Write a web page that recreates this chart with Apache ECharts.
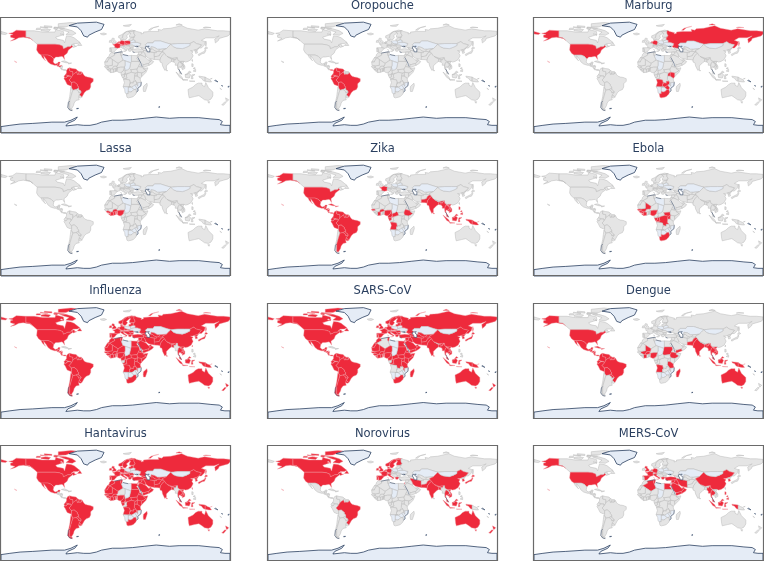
<!DOCTYPE html>
<html><head><meta charset="utf-8">
<style>html,body{margin:0;padding:0;background:#fff}#c{width:764px;height:561px;filter:blur(0.35px)}</style>
<script src="https://cdn.jsdelivr.net/npm/echarts@6/dist/echarts.min.js"></script>
</head><body><div id="c"></div>
<script>
// Simplified country outlines (lon,lat)
const SHAPES = {
Canada:['-141,70 -128,70 -115,68 -95,68 -94,72 -82,69 -81,64 -94,60 -92,57 -82,55 -80,51 -79,55 -77,62 -70,61 -65,59 -60,55 -56,52 -60,50 -66,50 -70,47 -65,49 -64,46 -61,46 -66,44 -67,45 -69,47 -71,45 -75,45 -79,43 -82,42 -83,46 -88,48 -95,49 -123,49 -130,55 -135,59 -141,60','-62,66 -68,63 -78,64 -73,68 -80,70 -88,73 -78,73 -68,70','-117,70 -105,69 -102,72 -110,73 -117,72','-90,76 -78,76 -62,82 -70,83 -90,81','-125,72 -118,72 -118,74 -124,74','-97,73 -92,72 -90,75 -97,75','-60,47 -53,47 -56,51.5','-112,76 -100,75 -100,77 -112,78','-96,74 -80,74 -80,75.5 -96,76','-118,75 -106,74.5 -106,76 -118,76.5','-87,65 -81,63 -80,64.5 -85,66'],
USA:['-168,66 -162,67 -156,71 -141,70 -141,60 -135,59 -130,55 -134,58 -145,60 -152,59 -158,56 -165,54 -158,58 -165,60 -165,63 -161,64','-123,49 -95,49 -88,48 -83,46 -82,42 -79,43 -75,45 -71,45 -69,47 -67,45 -70,43 -74,40 -76,35 -81,31 -80,25 -82,28 -84,30 -90,29 -94,29 -97,26 -101,30 -106,32 -114,32 -117,32 -121,35 -124,40','-159,22.5 -155,20.5 -155.5,19 -157,21'],
Mexico:['-117,32 -114,32 -106,32 -101,30 -97,26 -98,21 -95,18 -91,19 -90,21 -87,21 -88,18 -91,18 -91,16 -92,14.5 -96,16 -102,18 -106,21 -109,26 -113,31 -114.5,31 -112,26 -110,23 -115,28'],
Guatemala:['-92,14.5 -91,16 -91,18 -88,18 -89,15 -90,14'],Honduras:['-89,15 -84,16 -83,15 -87,13 -90,14'],Nicaragua:['-87,13 -83,15 -84,11 -86,11'],CostaRica:['-86,11 -84,11 -83,9 -85,9'],Panama:['-83,9 -79,9.5 -77,8 -78,7 -81,8'],
Cuba:['-85,22 -80,23 -74,20 -78,20'],Hispaniola:['-74,19.5 -69,19.5 -68.5,18.5 -74,18'],
Colombia:['-77,8 -75,11 -72,12 -72,7 -67,6 -67,1 -70,-4 -70,-1 -75,0 -79,1 -77,4'],Venezuela:['-72,12 -68,11 -62,10 -60,8 -61,5 -64,4 -67,1 -67,6 -72,7'],Guyana:['-60,8 -57,6 -58,2 -60,1.5 -61,5'],Suriname:['-57,6 -54,6 -54,2 -58,2'],FrGuiana:['-54,6 -52,4.5 -53,2 -54,2'],
Ecuador:['-79,1 -75,0 -75,-1 -78,-4 -80,-3 -81,-1'],Peru:['-81,-5 -80,-3 -78,-4 -75,-1 -75,0 -70,-1 -70,-4 -73,-7 -70,-10 -69,-13 -69,-17 -70,-18 -76,-14 -79,-8'],
Brazil:['-70,-4 -67,1 -64,4 -61,5 -60,1.5 -58,2 -54,2 -53,2 -52,4.5 -50,1 -48,-1 -44,-2.5 -40,-3 -35,-5 -35,-9 -39,-13 -39,-18 -41,-22 -46,-24 -49,-27 -53,-34 -57,-30 -54,-26 -55,-24 -58,-22 -58,-18 -60,-16 -60,-14 -65,-10 -69,-11 -70,-10 -73,-7'],
Bolivia:['-69,-11 -65,-10 -60,-14 -60,-16 -58,-18 -58,-20 -62,-22 -67,-23 -69,-19 -69,-17 -69,-13'],Paraguay:['-62,-22 -58,-20 -58,-22 -55,-24 -54,-26 -58,-27 -58,-25'],Uruguay:['-58,-34 -57,-30 -53,-34 -55,-35'],
Chile:['-70,-18 -69,-19 -67,-23 -70,-33 -72,-40 -72,-47 -72,-52 -68,-53 -68,-55 -72,-54 -75,-50 -74,-42 -72,-33 -71,-25'],Argentina:['-67,-23 -62,-22 -58,-25 -58,-27 -54,-26 -57,-30 -58,-34 -57,-38 -62,-39 -65,-43 -66,-47 -69,-52 -68,-53 -72,-52 -72,-47 -72,-40 -70,-33'],
Iceland:['-24,65.5 -18,66.5 -14,65 -18,63.5 -22,64'],UK:['-5,50 1,51 1,53 -2,56 -2,58 -5,58.5 -6,56 -3,54 -5,52'],Ireland:['-10,52 -6,52 -6,55 -9,55'],
Norway:['5,59 8,58 11,59 12,64 18,69 26,69 31,70 25,71 15,68 10,64 5,62'],Sweden:['11,59 13,55.5 16,56 19,60 17,62 22,66 24,66 20,69 18,69 12,64'],Finland:['24,66 22,63 22,60 28,60 31,62 29,66 29,70 26,69 20,69'],Denmark:['8,55 11,55 11,57 8,57'],
France:['-1.5,43.5 3,42.5 7.5,43.7 7,46 8,49 2.5,51 -1.5,49 -4.5,48.5 -1,46'],Spain:['-9,43.5 -1.5,43.5 3,42.5 0,39.5 -2,37 -6,36 -7,37 -7,42 -9,42'],Portugal:['-9,42 -7,42 -7,37 -9,37'],
Netherlands:['3.5,51.5 6,51 7,53 4.5,53'],Belgium:['2.5,51 6,50 6,51 3.5,51.5'],Germany:['6,51 6,50 8,49 7.7,47.7 13,47.5 13,49 15,51 14,54 9,54.8 7,53'],Switzerland:['7,46 7.7,47.7 10,47.5 10,46'],Austria:['10,47.5 13,47.5 13,49 17,48 16,46.5 10,46'],
Italy:['7,46 10,46 13.5,46.5 12.5,44 16,41.5 18.5,40 16,38 16,40 12,42 9,44 7.5,43.7','12.5,38 15.5,38 15,36.7','8.3,41 9.7,41 9.5,39 8.5,39'],
Poland:['14,54 19,54.5 23,54.3 24,51 22.5,49 19,49.5 15,51'],Czechia:['13,49 15,51 19,49.5 22.5,49 22.5,48 17,48'],Hungary:['16,46.5 17,48 22.5,48 21,46'],Romania:['21,46 22.5,48 27,48 29.5,45 28,44 23,44'],Bulgaria:['23,44 28,44 28,42 26,41 23,41.5'],Balkans:['13.5,46.5 16,46.5 21,46 23,44 23,41.5 20,41 19,42 13.5,45'],Greece:['20,41 23,41.5 26,41 24,38 23,36.5 21,38'],
Ukraine:['24,51 31,52 34,52 40,50 38,47 33,46 36,45 33,45 30,46 29.5,45 27,48 22.5,48 22.5,49'],Belarus:['23,54.3 28,56 31,55 32,53 31,52 24,51'],Baltics:['21,55 23,54.3 28,56 28,59.5 24,59.5 24,57.5 21,57'],
Russia:['31,70 33,69 41,67 40,65 44,66 44,68 54,69 68,69 67,72 73,71 75,73 87,74 104,78 113,74 130,71 140,73 160,70 170,70 180,69 180,65 177,62 170,60 163,58 162,55 157,51 156,57 163,62 155,59 142,59 135,55 141,53 140,48 135,43 131,43 135,48 127,50 123,53 117,50 108,50 98,50 88,49 80,51 71,54 61,54 59,51 50,51 47,48 49,46 47,42 40,43.5 37,45 39,47 38,47 40,50 34,52 31,52 32,53 31,55 28,56 28,59.5 30,60 28,60 31,62 29,66 29,70','-180,69 -170,66 -173,64 -180,65','142,54 143,50 142,46 141.5,50','52,71 56,74 68,77 60,75 55,71','95,79 105,79 100,81','138,75 150,75 142,76'],
Kazakhstan:['47,48 50,51 59,51 61,54 71,54 80,51 87,49 83,45 80,42 70,41 66,41 61,44 56,45 56,41 53,42 51,45 49,46'],Caucasus:['40,43.5 47,42 50,40 48,38.5 44,39.5 42,41'],
Turkey:['26,41 29,41 35,42 42,41 44,39.5 44,37 42,37 36,36.5 30,36 27,37'],Syria:['36,36.5 42,37 41,34 39,32 36,33'],Israel:['35,33 36,33 35.5,29.5 34.3,31.5'],Iraq:['42,37 44,37 46,35 48,30 46,29 42,31 39,32 41,34'],Jordan:['36,33 39,32 37,30 35.5,29.5'],
Saudi:['35,29 35.5,29.5 37,30 39,32 42,31 46,29 48,28 50,26 52,24 55,22 52,19 45,17 43,17 39,21'],Yemen:['43,17 45,17 52,19 53,16 45,13 43,13'],Oman:['55,22 56,24 60,22 58,19 53,16 52,19'],UAE:['52,24 56,26 56,24 55,22'],
Iran:['44,39.5 48,38.5 54,37 61,36 61,31 63,27 61,25 57,26 52,27 48,30 46,35 44,37'],Turkmenistan:['53,42 58,42 61,39 66,38 64,35.5 61,36 54,37 53,40'],Uzbekistan:['56,41 56,45 61,44 66,41 70,41 67,37 66,38 61,39 58,42'],Kyrgyzstan:['70,41 80,42 74,39 75,37 67,37'],
Afghanistan:['61,36 64,35.5 66,38 67,37 75,37 71,35 69,31 66,30 61,29.5 61,31'],Pakistan:['61,29.5 66,30 69,31 71,35 75,37 77,35 74,32 71,28 70,24 67,24.8 61,25'],
India:['74,32 77,35 79,32 81,30 88,26 89,27 96,29 97,28 94,24 92,25 89,26 88,22 85,20 80,15 80,10 77.5,8 74,15 73,20 70,21 70,24 71,28'],Nepal:['81,30 88,28 88,26'],Bangladesh:['88,22 89,26 92,25 92,21'],SriLanka:['80,9.5 82,7.5 80.5,6 79.8,7.5'],
China:['74,39 80,42 83,45 87,49 91,45 96,43 105,42 111,44 117,47 117,50 123,53 127,50 135,48 131,43 128,41 124,40 121,39 118,39 122,37 120,35 122,31 119,25 114,22 110,21 108,22 102,22 98,24 97,28 96,29 89,27 88,28 81,30 79,32 77,35 75,37'],Mongolia:['88,49 98,50 108,50 117,50 117,47 111,44 105,42 96,43 91,45 87,49'],
NKorea:['124,40 128,41 131,43 128,38.5 125,38'],SKorea:['125,38 128,38.5 129,35.5 126,34.5'],Japan:['130,33 131,34 136,36 140,38 141,41 142,39 140,35 136,34 131,31','140,42 142,45 145,43 143,42'],Taiwan:['120,23 121,25 121,22'],
Myanmar:['92,21 92,25 94,24 97,28 98,24 101,21 99,20 98,16 98.5,10 97.5,16 94,16 94,19'],Thailand:['98,16 99,20 101,21 105,18 105,15 102,13 100,13.5 99.5,10 101,7 100,6.5 98.5,10'],Laos:['101,21 102,22 105,20 107,16 107,14 105,15 105,18'],Vietnam:['102,22 108,22 106,19 109,15 109,11 105,9 105,11 107,14 107,16 105,20'],Cambodia:['102,13 105,15 107,14 105,11'],
Malaysia:['100,6.5 102,6 104,2 101,3','109.5,1.5 113,3 116,7 119,5 115,4 113,1.5'],Indonesia:['95,5.5 104,-2 106,-6 101,-3','105,-6 114,-7 114,-8.5 106,-7.5','109.5,1.5 113,1.5 115,4 118,1 116,-4 110,-3','119,-5 120,1 125,1.5 121,-1 122,-5','131,-1 138,-2 141,-2.5 141,-9 138,-8 135,-4 132,-3','116,-8.5 125,-9 125,-10 117,-9'],
PNG:['141,-2.5 145,-5 148,-6 151,-10 147,-10 141,-9','149,-5.5 152,-4.5 152,-6'],Philippines:['120,18.5 122,18 122,14 120,14','122,7 126,9.5 126,6','122,11 125,12.5 125,10'],
Australia:['114,-22 122,-18 126,-14 130,-12 136,-12 136,-15 140,-17.5 142,-11 146,-19 153,-26 153,-32 150,-37 146,-39 140,-38 136,-35 131,-31.5 124,-33 116,-35 115,-31','145,-41 148,-41 147,-43.5'],NZ:['173,-35 178,-38 175,-41 174,-39','172,-41 174,-42 170,-46.5 167,-46'],NewCaledonia:['164,-20 167,-22 166.5,-22.5'],
Morocco:['-13,27.7 -10,30 -9.5,33 -6,36 -2,35 -1,32 -9,27.7'],WSahara:['-17,21 -13,27.7 -9,27.7 -12,23 -13,21'],Algeria:['-2,35 8.5,37 8,33 9.5,30 12,24 4,19 3,19 -5,25 -9,27.7 -1,32'],Tunisia:['8.5,37 11,37 10.5,34 11.5,33 9.5,30 8,33'],Libya:['11.5,33 15,32 20,31 25,31.5 25,20 24,19.5 15,23 12,24 9.5,30'],Egypt:['25,31.5 34,31 35,28 33,27 37,22 25,22'],
Sudan:['25,22 37,22 38,18 36,14 34,10 24,9 22,11 24,19.5 25,20'],SSudan:['24,9 34,10 35,5 31,3.5 25,5'],Eritrea:['38,18 43,12.5 36,14'],Ethiopia:['36,14 43,12.5 43,11 48,8 44,5 41,4 36,4.5 34,8 34,10'],Somalia:['43,11 51,12 48,5 41,-2 41,4 44,5 48,8'],Kenya:['35,5 36,4.5 41,4 41,-2 39,-4.6 34,-1 34,3'],Uganda:['31,3.5 35,5 34,3 34,-1 30,-1 30,1'],Tanzania:['30,-1 34,-1 39,-4.6 39,-7 40.5,-10.5 35,-11.5 33,-11 32,-9 29.5,-6'],
DRC:['12.5,-6 13,-5 18,-4 17,-1 18,3 19,4 25,5 31,3.5 30,1 30,-1 29.5,-6 32,-9 28,-9 28,-12 23,-11 22,-7 17,-7 16,-6'],Congo:['11,-3.5 13,-5 18,-4 17,-1 18,3 16,2 14,3.5 14,1.5 14,-2'],Gabon:['9,1 14,1.5 14,-2 11,-3.5'],Cameroon:['8.5,4.5 9,1 14,1.5 14,3.5 16,2 15,8 15,10.5 14,13 13,10 12,7'],CAR:['15,8 16,2 18,3 19,4 25,5 24,9 22,11 19,9'],Chad:['15,23 24,19.5 22,11 19,9 15,8 15,10.5 14,13 15,16'],Niger:['4,19 12,24 15,23 15,16 14,13 8,13 3,12 1,15 3,15'],Nigeria:['3,6 3,12 8,13 14,13 13,10 12,7 8.5,4.5 6,4.5'],Benin:['1.5,6 3,6 3,12 1,11'],Togo:['0,6 1.5,6 1,11 0,11'],Ghana:['-3,5 0,6 0,11 -3,11'],CotedIvoire:['-7.5,4.5 -3,5 -3,10 -5.5,10.5 -8,10.5 -8,8'],Burkina:['-5.5,10.5 -3,10 -3,11 0,11 1,11 3,12 1,15 -3,14.5'],Mali:['-12,15 -12,12 -8,10.5 -5.5,10.5 -3,14.5 1,15 3,15 4,19 3,19 -5,25 -5,16'],Mauritania:['-16.5,16 -17,21 -13,21 -12,23 -9,27.7 -5,25 -5,16 -12,15'],Senegal:['-17.5,14.5 -16.5,16 -12,15 -12,12 -16.5,12.5'],Guinea:['-15,11 -16.5,12.5 -12,12 -8,10.5 -8,8 -10,8.5 -13,9'],SierraLeone:['-13,9 -10,8.5 -11,7'],Liberia:['-11,7 -10,8.5 -8,8 -7.5,4.5'],
Angola:['12.5,-6 16,-6 17,-7 22,-7 23,-11 24,-13 22,-13 22,-17 24,-18 12,-17.5 14,-11'],Zambia:['22,-13 24,-13 23,-11 28,-12 28,-9 32,-9 33,-11 33,-14 30,-15 28,-17 25,-18 24,-18 22,-17'],Malawi:['33,-11 35,-11.5 35,-17 33,-14'],Mozambique:['35,-11.5 40.5,-10.5 40,-16 35,-20 35.5,-24 33,-26 32,-22 33,-19 30,-15 33,-14 35,-17'],Zimbabwe:['25,-18 28,-17 30,-15 33,-19 32,-22 29,-22'],Botswana:['20,-18 24,-18 25,-18 29,-22 26,-25 23,-26 20,-25 20,-22'],Namibia:['12,-17.5 24,-18 20,-18 20,-22 20,-25 20,-28.5 17,-28.5 15,-27 14.5,-22'],SouthAfrica:['17,-28.5 20,-28.5 20,-25 23,-26 26,-25 29,-22 32,-22 33,-26 32,-29 28,-33 25,-34 20,-35 18,-34'],Madagascar:['49.5,-12 50,-16 47,-25 44,-25 43.5,-21 44,-17'],
Svalbard:['12,78 25,80 22,77 15,77']
};
const DARK_SHAPES = {
Greenland:['-73,78 -60,82 -30,83.5 -18,80 -22,72 -32,68 -42,63 -44,60 -50,62 -54,70 -60,76'],
Antarctica:['-180,-80 -166,-78 -150,-76 -130,-75 -100,-73 -80,-73 -70,-70 -60,-65 -64,-70 -75,-75 -78,-79 -60,-77 -50,-78 -40,-78 -30,-76 -22,-73 -5,-70 10,-70 27,-69 45,-67 64,-65 85,-67 100,-66 131,-66 150,-68 163,-69 168,-72 165,-77 172,-78 180,-78 180,-90 -180,-90'],
Caspian:['47,45 53,46 51,44 54,41 54,37 50,37 49,40 47,43'],
Falklands:['-61,-51.5 -58,-51.5 -58,-52.3 -61,-52.3'],Kerguelen:['68,-49 70,-49 70,-50 68,-50'],Fiji:['177,-17 179,-17 179,-18.5 177,-18.5'],Solomon:['157,-7 161,-10 160,-10 156,-8'],Vanuatu:['167,-15 168,-15 168,-17']
};
const DARK_COASTS = [
'35,-20 40,-16 40.5,-10.5','35,-20 35.5,-24 33,-26','-72,-40 -74,-42 -75,-50 -72,-54 -68,-55','-2,35 8.5,37 11,37','11.5,33 15,32 20,31','27,37 30,36','33,46 36,45 33,45 30,46','99.5,10 101,7 104,2','42,14 39,21 35,28'
];

// Land that stays pale blue unless a panel marks it
const BASE_BLUE = ['Kazakhstan','Mongolia','Ukraine','Belarus','Poland','Libya','Chad','Botswana','Mozambique','Namibia','Zimbabwe'];

const TITLES = ['Mayaro','Oropouche','Marburg','Lassa','Zika','Ebola','Influenza','SARS-CoV','Dengue','Hantavirus','Norovirus','MERS-CoV'];
const MAYARO = ['USA','Mexico','Guatemala','Honduras','Colombia','Venezuela','Guyana','Suriname','FrGuiana','Ecuador','Peru','Bolivia','Brazil','France','Germany','Switzerland','Netherlands','Belgium','Austria','Poland','Czechia'];
const OROPOUCHE = ['Brazil','Peru','Bolivia','Colombia','Ecuador','Panama','Venezuela'];
const MARBURG = ['USA','Russia','Germany','Netherlands','Angola','Zambia','Uganda','Kenya','Zimbabwe','SouthAfrica'];
const LASSA = ['Guinea','SierraLeone','Liberia','CotedIvoire','Ghana','Burkina','Togo','Benin','Nigeria'];
const ZIKA = ['USA','Mexico','Guatemala','Honduras','Nicaragua','CostaRica','Panama','Cuba','Hispaniola','Colombia','Venezuela','Guyana','Suriname','FrGuiana','Ecuador','Peru','Bolivia','Brazil','Paraguay','Uruguay','Argentina','France','Senegal','CotedIvoire','Burkina','Nigeria','Cameroon','CAR','Gabon','Angola','Ethiopia','Pakistan','India','Bangladesh','SriLanka','Myanmar','Thailand','Laos','Vietnam','Cambodia','Malaysia','Indonesia','Philippines','PNG'];
const EBOLA = ['Senegal','Guinea','SierraLeone','Liberia','CotedIvoire','Mali','Nigeria','Gabon','Congo','DRC','Uganda','SSudan','SouthAfrica'];
const DENGUE = ['USA','Mexico','Guatemala','Honduras','Nicaragua','CostaRica','Panama','Cuba','Hispaniola','Colombia','Venezuela','Guyana','Suriname','FrGuiana','Ecuador','Peru','Bolivia','Brazil','Paraguay','Mali','Burkina','CotedIvoire','Nigeria','Sudan','Ethiopia','Yemen','Tanzania','Angola','Madagascar','Pakistan','India','Bangladesh','SriLanka','Myanmar','Thailand','Laos','Vietnam','Cambodia','Malaysia','Indonesia','PNG','Australia'];
const NOROVIRUS = ['Canada','USA','Brazil','Australia','NZ','Norway','Sweden','Finland','UK','Ireland','France','Spain','Portugal','Germany','Italy','Netherlands','Belgium','Switzerland','Austria','Denmark','Greece','Israel','Iran','Pakistan','India','Nepal','Bangladesh','China','Japan','SKorea','Taiwan','Thailand','Vietnam','Cambodia','Malaysia','Indonesia'];
const MERS = ['USA','UK','France','Spain','Italy','Germany','Austria','Netherlands','Greece','Algeria','Tunisia','Turkey','Egypt','Iran','Iraq','Jordan','Syria','Saudi','Yemen','Oman','UAE','China','Myanmar','Thailand','Malaysia','Indonesia','Philippines','SKorea'];
// The three widespread panels: every listed land except these
const INFLUENZA_ABSENT = ['Philippines','Cuba','Hispaniola','Myanmar','Gabon','Svalbard','NewCaledonia','Iceland'];
const SARS_ABSENT = ['Philippines','Algeria','Gabon','Angola','Zambia','Cuba','Hispaniola','Nepal','Svalbard','NewCaledonia','Iceland'];
const HANTA_ABSENT = ['Philippines','Guatemala','Honduras','Nicaragua','CostaRica','Panama','Cuba','Hispaniola','Congo','Niger','Svalbard','NewCaledonia','Iceland','Myanmar'];

const LAND = Object.keys(SHAPES);
const widespread = absent => LAND.filter(n => !absent.includes(n) && !BASE_BLUE.includes(n));
const PANELS = [MAYARO,OROPOUCHE,MARBURG,LASSA,ZIKA,EBOLA,widespread(INFLUENZA_ABSENT),widespread(SARS_ABSENT),DENGUE,widespread(HANTA_ABSENT),NOROVIRUS,MERS];

const ring = s => { const r = s.split(' ').map(p => p.split(',').map(Number)); r.push(r[0]); return [r]; };
const feat = (name, rings) => ({type:'Feature',properties:{name},geometry:{type:'MultiPolygon',coordinates:rings.map(ring)}});
const features = [];
for (const n of LAND) features.push(feat(n, SHAPES[n]));
for (const n of Object.keys(DARK_SHAPES)) features.push(feat(n, DARK_SHAPES[n]));
features.push({type:'Feature',properties:{name:'coast'},geometry:{type:'MultiLineString',coordinates:DARK_COASTS.map(s=>s.split(' ').map(p=>p.split(',').map(Number)))}});

const RED='#ee2a3c', GRAY='#e5e5e5', BLUE='#e5ecf6', LINE='#b8b8b8', DARK='#2a3f5f';
const X=[1,268,534], Y=[18,161,303.5,446], W=229, H=115;
const series=[], title=[], frames=[];
PANELS.forEach((red,i)=>{
  const mapName='world'+i;
  echarts.registerMap(mapName,{type:'FeatureCollection',features});
  const c=i%3, r=Math.floor(i/3), x=X[c], y=Y[r];
  const data=[];
  for(const n of LAND){
    if(red.includes(n)) data.push({name:n,itemStyle:{areaColor:RED,borderColor:'#ee8f98',borderWidth:0.4}});
    else if(BASE_BLUE.includes(n)) data.push({name:n,itemStyle:{areaColor:BLUE,borderColor:LINE,borderWidth:0.5}});
    else data.push({name:n,itemStyle:{areaColor:GRAY,borderColor:LINE,borderWidth:0.5}});
  }
  data.push({name:'Greenland',itemStyle:{areaColor:BLUE,borderColor:DARK,borderWidth:0.8}});
  data.push({name:'Antarctica',itemStyle:{areaColor:BLUE,borderColor:DARK,borderWidth:0.8}});
  for(const n of ['Caspian','Falklands','Kerguelen','Fiji','Solomon','Vanuatu'])
    data.push({name:n,itemStyle:{areaColor:n==='Caspian'?'#ffffff':BLUE,borderColor:DARK,borderWidth:0.6}});
  data.push({name:'coast',itemStyle:{areaColor:'none',borderColor:DARK,borderWidth:0.5}});
  series.push({type:'map',map:mapName,left:x,top:y,width:W,height:H,aspectScale:1,
    boundingCoords:[[-180,90],[180,-90]],roam:false,silent:true,selectedMode:false,
    label:{show:false},emphasis:{disabled:true},
    itemStyle:{areaColor:GRAY,borderColor:LINE,borderWidth:0.5},data});
  title.push({text:TITLES[i],left:x+W/2,top:y-18,padding:0,textAlign:'center',
    textStyle:{fontFamily:'DejaVu Sans',fontSize:11.5,fontWeight:'normal',color:'#2a3f5f'}});
  frames.push({type:'rect',shape:{x:x-0.5,y:Math.round(y)-0.5,width:W+1,height:H},z:100,
    style:{fill:'none',stroke:'#6a6a6a',lineWidth:1.2}});
});
const chart=echarts.init(document.getElementById('c'),null,{renderer:'canvas'});
chart.setOption({animation:false,backgroundColor:'#fff',title,series,graphic:frames,tooltip:{show:false}});
</script></body></html>
